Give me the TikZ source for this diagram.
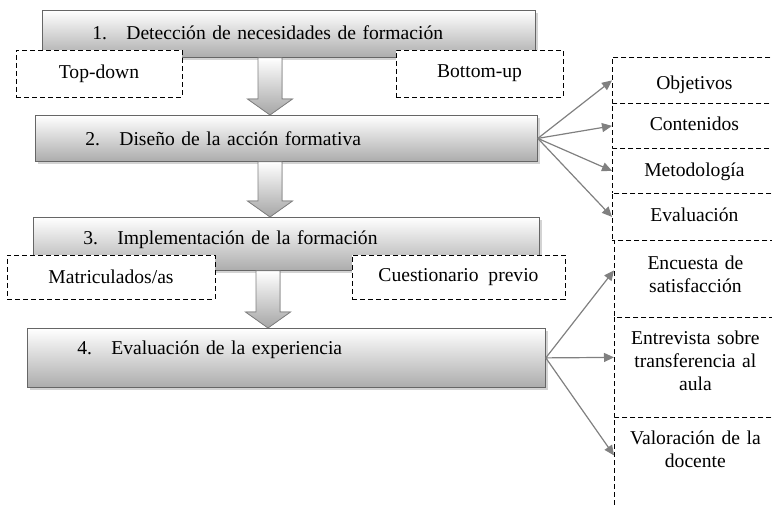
\documentclass[tikz,border=0pt]{standalone}
\usepackage{fontspec}
\setmainfont{Liberation Serif}
\usetikzlibrary{arrows.meta,shadows}

\newcommand{\boxfont}{\fontsize{9.8}{11.6}\selectfont}
\newcommand{\numitem}[1]{\makebox[17pt][l]{#1}}
% block arrow from one phase to the next: from, to, x position
\newcommand{\blockarrow}[3]{%
  \filldraw[bigarrow] (#3-12,0 |- #1.south) -- (#3+12,0 |- #1.south)
    -- ([yshift=8pt]#3+12,0 |- #2.north) -- ([yshift=8pt]#3+22.5,0 |- #2.north)
    -- (#3,0 |- #2.north) -- ([yshift=8pt]#3-22.5,0 |- #2.north)
    -- ([yshift=8pt]#3-12,0 |- #2.north) -- cycle;}

\begin{document}
\begin{tikzpicture}[x=0.5pt,y=-0.5pt,font=\boxfont,
    mainbox/.style={draw=gray!80!black,top color=white,bottom color=gray!65,
      drop shadow={shadow xshift=1.5pt,shadow yshift=-1.5pt,opacity=0.35},
      anchor=north west,align=left,inner xsep=25pt,inner ysep=0pt},
    dashbox/.style={draw,dash pattern=on 2.5pt off 1.5pt,fill=white,inner sep=0pt},
    sidebox/.style={draw,dash pattern=on 2.5pt off 1.5pt,fill=white,anchor=north west,align=center,inner sep=0pt},
    bigarrow/.style={draw=gray,top color=white,bottom color=gray!70},
    link/.style={draw=gray,line width=0.6pt,-{Triangle[length=5pt,width=4.5pt]}}]
    \clip (0,0) rectangle (772,507);

    % phases
    \node[mainbox,text width=196.5pt,text height=14.5pt,text depth=9pt] (b1) at (42,10) {\numitem{1.}Detección de necesidades de formación};
    \node[mainbox,text width=201pt,text height=15pt,text depth=8pt] (b2) at (35,115) {\numitem{2.}Diseño de la acción formativa};
    \node[mainbox,text width=203pt,text height=13.5pt,text depth=13pt] (b3) at (33,217) {\numitem{3.}Implementación de la formación};
    \node[mainbox,text width=209pt,text height=13pt,text depth=16.5pt] (b4) at (27,328) {\numitem{4.}Evaluación de la experiencia};

    \node[dashbox,minimum width=83pt,minimum height=23.5pt] (topdown) at (99,73.5) {Top-down};
    \node[dashbox,minimum width=83.5pt,minimum height=23.5pt] (bottomup) at (479.5,73.5) {Bottom-up};
    \node[dashbox,minimum width=104pt,minimum height=22pt] (matric) at (111,277) {Matriculados/as};
    \node[dashbox,minimum width=106.5pt,minimum height=22pt] (cuest) at (458.5,277) {Cuestionario\ \ previo};

    % right column
    \node[sidebox,text width=82pt,text height=16pt,text depth=7pt] (obj) at (612,57) {Objetivos};
    \node[sidebox,text width=82pt,text height=13.5pt,text depth=9pt] (con) at (612,103) {Contenidos};
    \node[sidebox,text width=82pt,text height=14pt,text depth=8.5pt] (met) at (612,148) {Metodología};
    \node[sidebox,text width=82pt,text height=14pt,text depth=9.5pt] (eva) at (612,193) {Evaluación};
    \node[sidebox,text width=81pt,text height=14.5pt,text depth=24pt] (enc) at (614,240) {Encuesta de\\satisfacción};
    \node[sidebox,text width=81pt,text height=13.5pt,text depth=36.5pt] (ent) at (614,317) {Entrevista sobre\\transferencia al\\aula};
    \node[sidebox,text width=81pt,text height=13.5pt,text depth=43pt] (val) at (614,417) {Valoración de la\\docente};

    \blockarrow{b1}{b2}{270}
    \blockarrow{b2}{b3}{270}
    \blockarrow{b3}{b4}{268}

    \foreach \t in {obj,con,met,eva}
        \draw[link] (b2.east) -- (\t.west);
    \draw[link] (b4.east) -- ([yshift=4.25pt]enc.west);
    \draw[link] (b4.east) -- ([yshift=5pt]ent.west);
    \draw[link] (b4.east) -- ([yshift=9.25pt]val.west);
\end{tikzpicture}
\end{document}
